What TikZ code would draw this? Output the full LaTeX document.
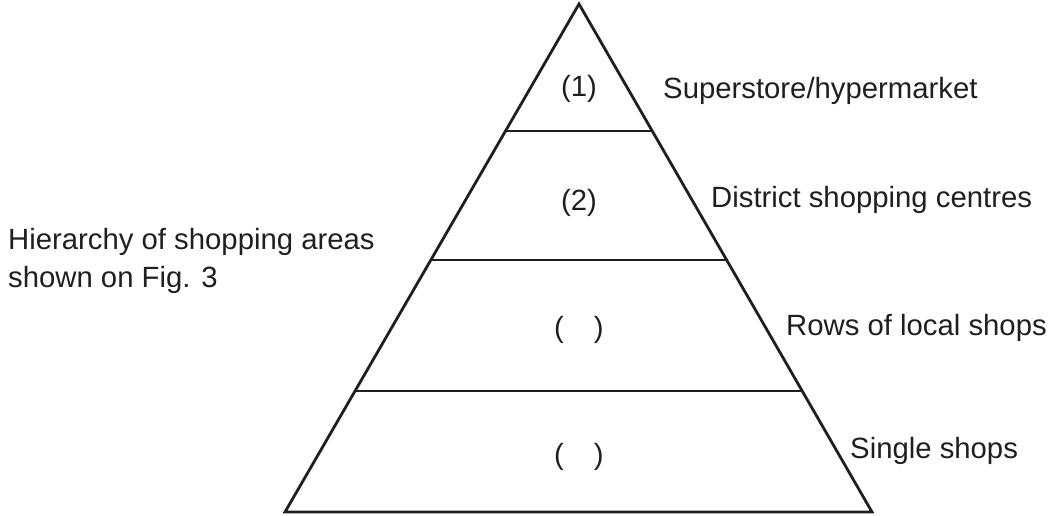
\documentclass[tikz,border=0pt]{standalone}
\usepackage{fontspec}
\setmainfont{Liberation Sans}
\begin{document}
\begin{tikzpicture}[x=1pt,y=-1pt,
  edge/.style={line width=2.8pt,color=black!88,line join=miter},
  lbl/.style={inner sep=0pt,anchor=base west,font=\fontsize{29.3}{37}\selectfont,text=black!88},
  num/.style={inner sep=0pt,anchor=center,font=\fontsize{29.3}{37}\selectfont,text=black!88}]
\useasboundingbox (0,0) rectangle (1055,515);
\coordinate (apex) at (579,4);
\coordinate (bl) at (285,512);
\coordinate (br) at (872,512);
\draw[edge] (apex) -- (bl) -- (br) -- cycle;
\coordinate (a1) at (506,131); \coordinate (b1) at (652,131);
\coordinate (a2) at (431,260); \coordinate (b2) at (727,260);
\coordinate (a3) at (355,391); \coordinate (b3) at (802,391);
\draw[edge,line width=2.5pt] (a1) -- (b1);
\draw[edge,line width=2.5pt] (a2) -- (b2);
\draw[edge,line width=2.5pt] (a3) -- (b3);
\node[num] (n1) at (579,89) {(1)};
\node[num] (n2) at (579,203) {(2)};
\node[num] (n3) at (579,330) {(\hspace*{30pt})};
\node[num] (n4) at (579,457) {(\hspace*{30pt})};
\node[lbl] (t1) at (663,98) {Superstore/hypermarket};
\node[lbl] (t2) at (711,207) {District shopping centres};
\node[lbl] (t3) at (786,335) {Rows of local shops};
\node[lbl] (t4) at (850,458) {Single shops};
\node[lbl] (h) at (8,249) {Hierarchy of shopping areas};
\node[lbl] (h2) at (8,287) {shown on Fig. 3};
\end{tikzpicture}
\end{document}
